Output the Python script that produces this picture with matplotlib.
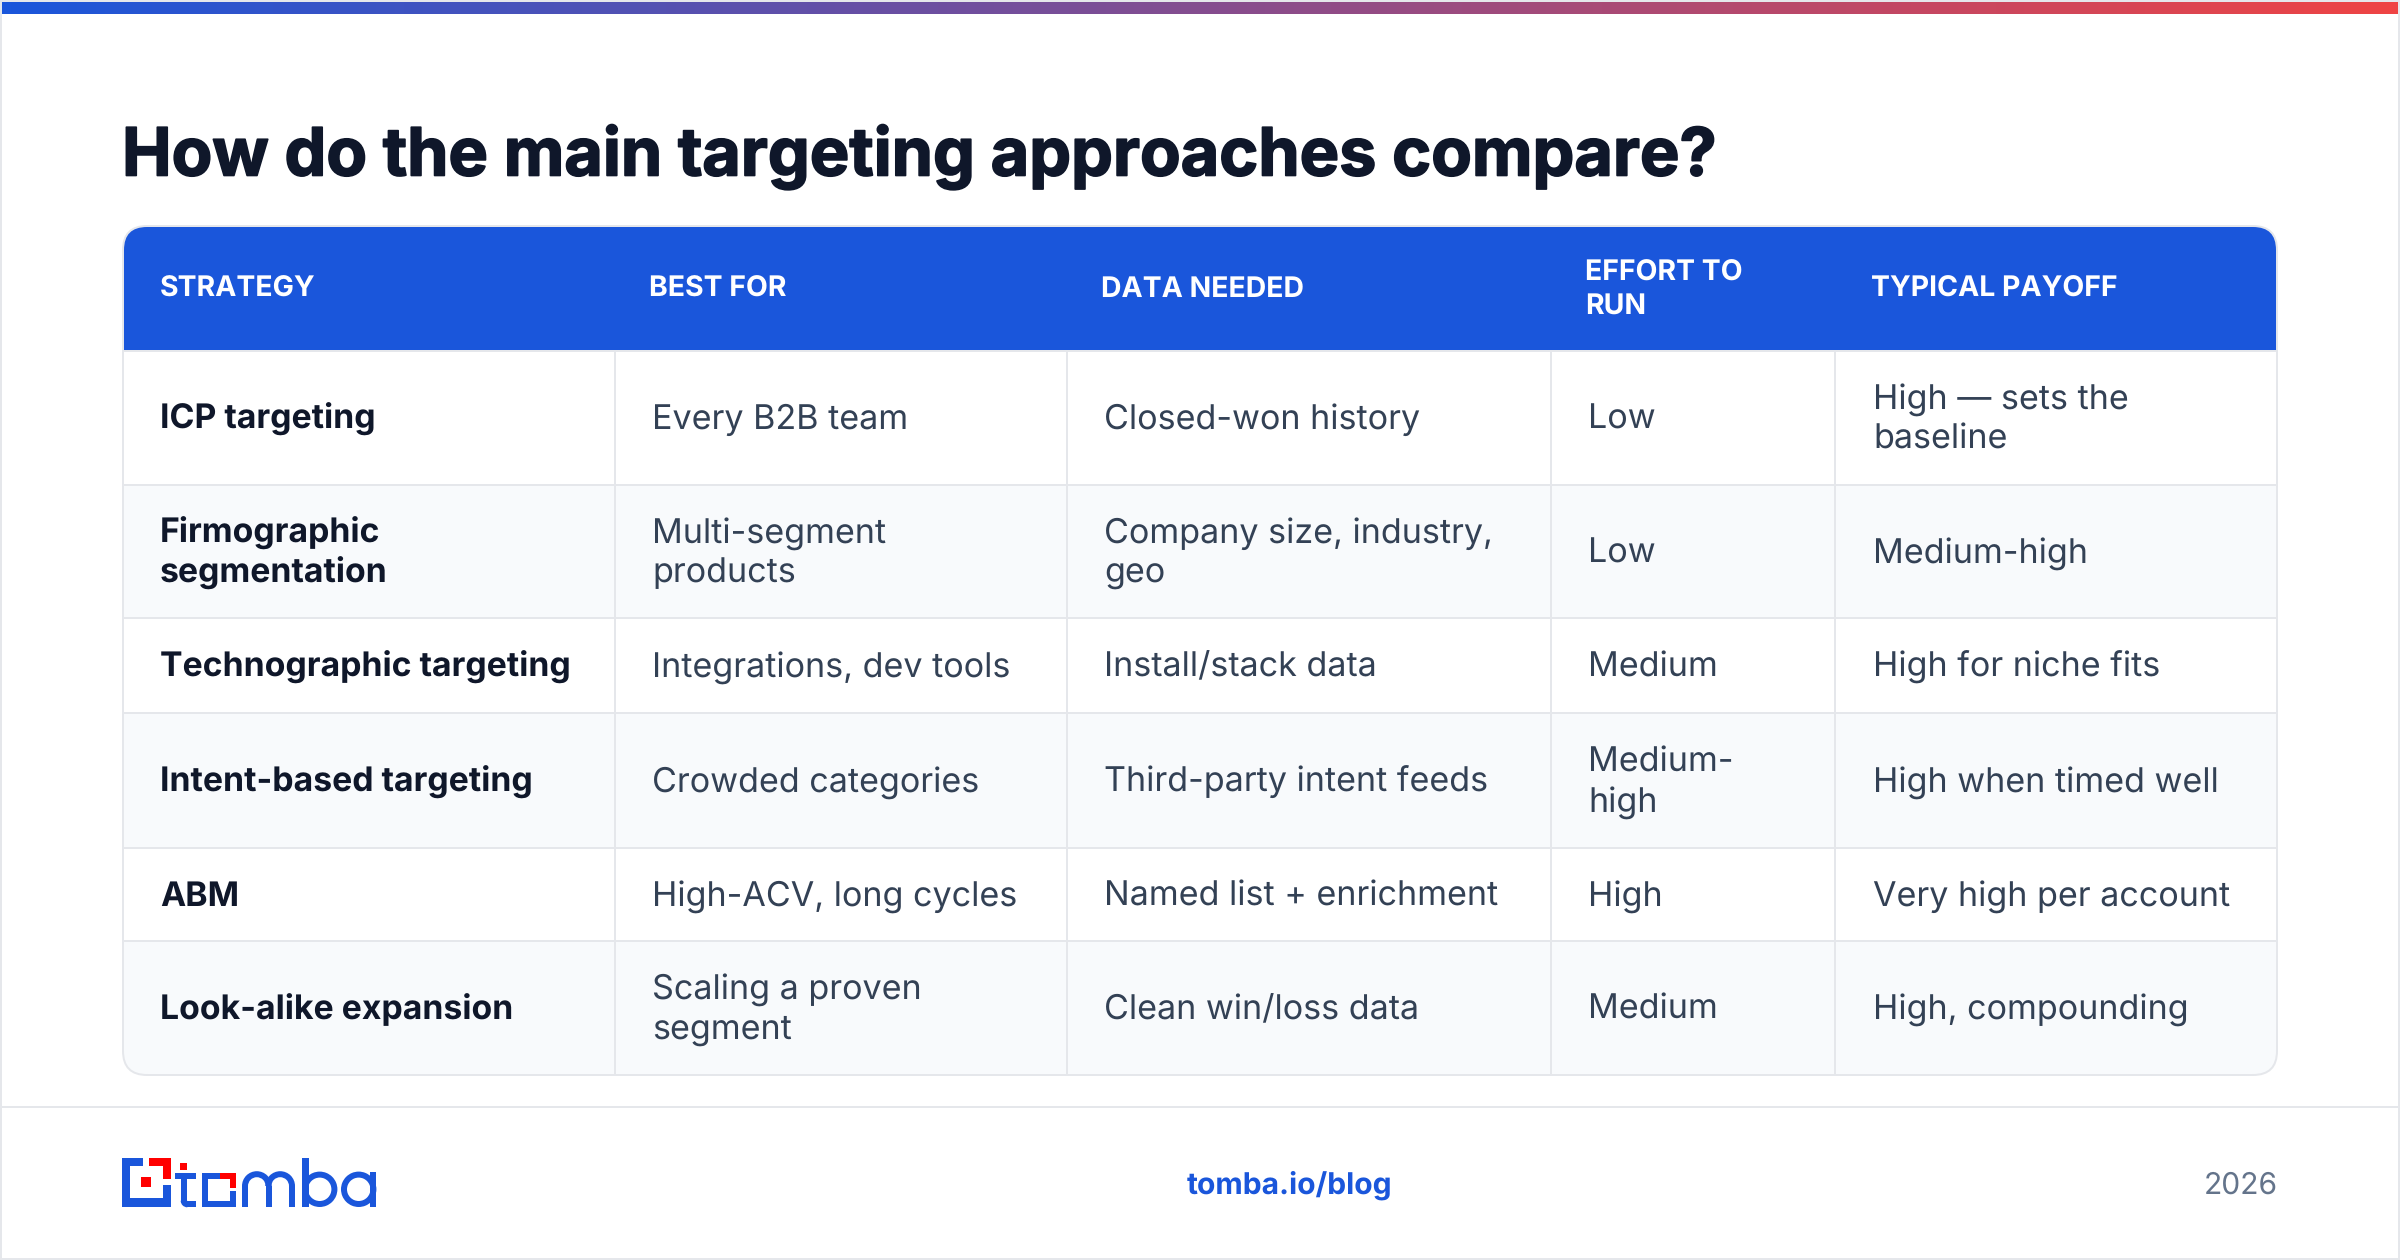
import numpy as np
from matplotlib import pyplot as plt
from matplotlib import patheffects
from matplotlib.colors import LinearSegmentedColormap
from matplotlib.patches import FancyBboxPatch, Rectangle, Wedge

plt.rcParams['font.family'] = ['Inter', 'DejaVu Sans']
plt.rcParams['text.hinting'] = 'no_hinting'
plt.rcParams['text.hinting_factor'] = 1

title = 'How do the main targeting approaches compare?'
headers = ['STRATEGY', 'BEST FOR', 'DATA NEEDED', 'EFFORT TO\nRUN', 'TYPICAL PAYOFF']
strategy = ['ICP targeting', 'Firmographic\nsegmentation', 'Technographic targeting',
            'Intent-based targeting', 'ABM', 'Look-alike expansion']
best_for = ['Every B2B team', 'Multi-segment\nproducts', 'Integrations, dev tools',
            'Crowded categories', 'High-ACV, long cycles', 'Scaling a proven\nsegment']
data_needed = ['Closed-won history', 'Company size, industry,\ngeo', 'Install/stack data',
               'Third-party intent feeds', 'Named list + enrichment', 'Clean win/loss data']
effort = ['Low', 'Low', 'Medium', 'Medium-\nhigh', 'High', 'Medium']
payoff = ['High — sets the\nbaseline', 'Medium-high', 'High for niche fits',
          'High when timed well', 'Very high per account', 'High, compounding']
columns = [strategy, best_for, data_needed, effort, payoff]

BLUE = '#1a56db'
LINE = '#e5e7eb'
DARK = '#0f172a'
BODY = '#334155'

# everything is laid out in pixels of the 2400x1260 image
col_lines = [123, 615, 1067, 1551, 1835, 2277]
row_lines = [226, 351, 485, 618, 713, 848, 941, 1075]
head_x = [160, 649, 1101, 1585, 1871]
body_x = [160, 652, 1104, 1588, 1873]


def px(size):
    return size * 0.72


fig = plt.figure(figsize=(24, 12.6), dpi=100)
ax = fig.add_axes([0, 0, 1, 1])
ax.set_xlim(0, 2400)
ax.set_ylim(1260, 0)
ax.axis('off')

# outer frame and top gradient bar
ax.add_patch(Rectangle((1, 1), 2398, 1258, fc='white', ec=LINE, lw=1.44))
cmap = LinearSegmentedColormap.from_list('bar', [BLUE, '#ef4444'])
ax.imshow(np.linspace(0, 1, 256).reshape(1, -1), cmap=cmap, aspect='auto',
          extent=(2, 2398, 14, 2), zorder=2)
ax.set_xlim(0, 2400)
ax.set_ylim(1260, 0)

# the original title is tracked tighter and looks heavier than plain Inter bold
ax.text(122, 175.5, title, fontsize=px(66.4), fontweight='bold', color=DARK, va='baseline',
        path_effects=[patheffects.withStroke(linewidth=1.2, foreground=DARK)])

# table
x0, x1 = col_lines[0], col_lines[-1]
y0, y1 = row_lines[0], row_lines[-1]
box = FancyBboxPatch((x0, y0), x1 - x0, y1 - y0, boxstyle='round,pad=0,rounding_size=24',
                     fc='white', ec='none', zorder=1)
ax.add_patch(box)

head = Rectangle((x0, y0), x1 - x0, row_lines[1] - y0, fc=BLUE, ec='none', zorder=2)
ax.add_patch(head)
head.set_clip_path(box)

for i in range(6):
    if i % 2 == 1:
        band = Rectangle((x0, row_lines[i + 1]), x1 - x0, row_lines[i + 2] - row_lines[i + 1],
                         fc='#f8fafc', ec='none', zorder=2)
        ax.add_patch(band)
        band.set_clip_path(box)

for y in row_lines[1:-1]:
    ax.plot([x0, x1], [y, y], color=LINE, lw=1.44, zorder=3, solid_capstyle='butt')
for x in col_lines[1:-1]:
    ax.plot([x, x], [row_lines[1], y1], color=LINE, lw=1.44, zorder=3, solid_capstyle='butt')

edge = FancyBboxPatch((x0, y0), x1 - x0, y1 - y0, boxstyle='round,pad=0,rounding_size=24',
                      fc='none', ec=LINE, lw=1.44, zorder=4)
ax.add_patch(edge)

for x, label in zip(head_x, headers):
    lines = label.split('\n')
    for k, line in enumerate(lines):
        y = 297 + (k - (len(lines) - 1) / 2) * 32.5
        ax.text(x, y, line, fontsize=px(28.4), fontweight='bold', color='white',
                va='baseline', zorder=5)

for c, col in enumerate(columns):
    for r, cell in enumerate(col):
        mid = (row_lines[r + 1] + row_lines[r + 2]) / 2
        lines = cell.split('\n')
        for k, line in enumerate(lines):
            y = mid + 11 + (k - (len(lines) - 1) / 2) * 40
            ax.text(body_x[c], y, line, fontsize=px(33.8 if c == 0 else 34.1),
                    color=DARK if c == 0 else BODY,
                    fontweight='bold' if c == 0 else 'normal', va='baseline', zorder=5)

# footer
ax.plot([2, 2398], [1107, 1107], color=LINE, lw=1.44, solid_capstyle='butt')
ax.text(1289, 1194, 'tomba.io/blog', fontsize=px(30), fontweight='bold', color=BLUE,
        ha='center', va='baseline')
ax.text(2278, 1194, '2026', fontsize=px(30), color='#64748b', ha='right', va='baseline')

# logo, icon part
logo_blue = [(122, 1158, 8, 48.7), (122, 1158, 21.3, 8), (122, 1198.4, 48.7, 8.3),
             (162.7, 1184.7, 8, 22), (175.3, 1172.7, 20.7, 6), (180.7, 1172.7, 6.6, 30),
             (202, 1172.7, 6, 34), (202, 1200.7, 33.7, 6), (202, 1172.7, 18, 6),
             (229.7, 1191.3, 6, 15.4), (187, 1200.7, 9, 6)]
logo_red = [(148.7, 1158, 22, 8), (162.7, 1158, 8, 21.3), (141.3, 1177.3, 10, 10),
            (180, 1162.7, 7.3, 7.3), (220.3, 1172.7, 15.4, 6), (229.7, 1172.7, 6, 15.3)]
for x, y, w, h in logo_blue:
    ax.add_patch(Rectangle((x, y), w, h, fc=BLUE, ec='none'))
for x, y, w, h in logo_red:
    ax.add_patch(Rectangle((x, y), w, h, fc='#ff0000', ec='none'))
# rounded foot of the t
ax.add_patch(Wedge((187.3, 1200.7), 6.6, 90, 180, fc=BLUE, ec='none'))

# logo, "mba" drawn as shapes because the letterforms are custom
for x, y, w, h in [(242, 1186, 6, 20.7), (265.7, 1186, 6, 20.7), (289, 1186, 6, 20.7),
                   (302, 1158, 6.7, 48.7), (370, 1172, 6, 34.7)]:
    ax.add_patch(Rectangle((x, y), w, h, fc=BLUE, ec='none'))
for cx in (256.8, 280.2):
    ax.add_patch(Wedge((cx, 1186), 14.8, 180, 360, width=6, fc=BLUE, ec='none'))
for cx in (319.7, 358.7):
    ax.add_patch(Wedge((cx, 1189.3), 17.7, 0, 360, width=6, fc=BLUE, ec='none'))

fig.savefig('out.png', dpi=100)
